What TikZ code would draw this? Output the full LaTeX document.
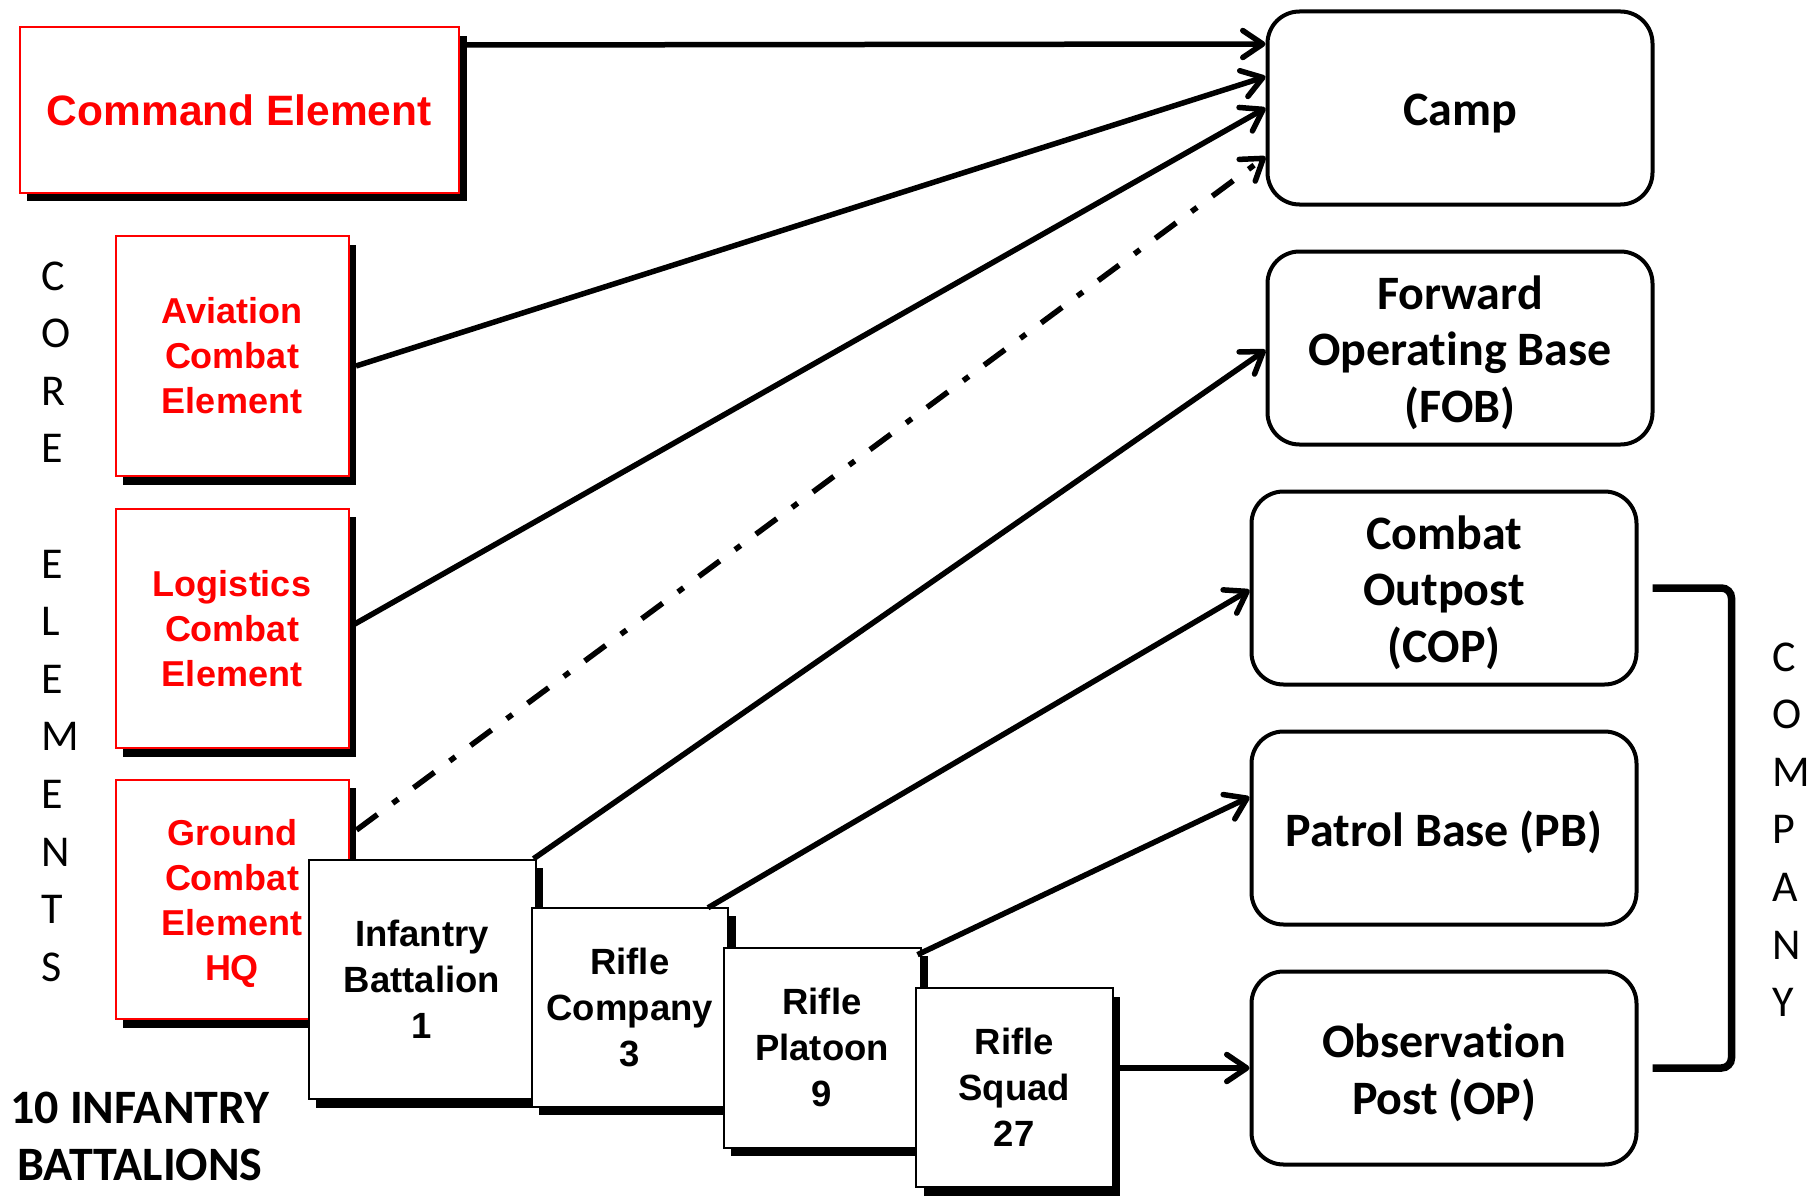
\documentclass[tikz,border=0pt]{standalone}
\usepackage{fontspec}
\newfontfamily\arialfont{Liberation Sans}
\newfontfamily\calfont{Carlito}[Ligatures=NoCommon]
\usetikzlibrary{arrows.meta,shadows,calc}
\begin{document}
\begin{tikzpicture}[x=1pt,y=-1pt,
  sh/.style={drop shadow={shadow xshift=7.5pt,shadow yshift=-8.5pt,opacity=1,fill=black}},
  redbox/.style={sh, draw=red, line width=2pt, fill=white, text=red, align=center, inner sep=0pt,
    font=\arialfont\bfseries\fontsize{36}{45}\selectfont},
  redtext/.style={text=red, align=center, inner sep=0pt,
    font=\arialfont\bfseries\fontsize{36}{45}\selectfont},
  unitbox/.style={sh, draw=black, line width=2pt, fill=white, text=black, align=center, inner sep=0pt,
    font=\arialfont\bfseries\fontsize{36.5}{46}\selectfont},
  basebox/.style={draw=black, line width=4pt, rounded corners=32pt, fill=white, inner sep=0pt,
    minimum width=385pt, minimum height=193pt},
  basetext/.style={align=center, inner sep=0pt, font=\calfont\bfseries\fontsize{48}{56.6}\selectfont},
  conn/.style={line width=5.5pt, -{Straight Barb[length=20pt,width=27pt,round]}},
  vletter/.style={anchor=base west, inner sep=0pt, font=\calfont\fontsize{44}{50}\selectfont},
  bracketline/.style={line width=7.5pt, rounded corners=10pt},
]
\useasboundingbox (0,0) rectangle (1812,1196);

% left element boxes
\node[redbox, minimum width=439.5pt, minimum height=165pt,
  font=\arialfont\bfseries\fontsize{42.5}{50}\selectfont] (cmd) at (239.25,110) {Command Element};
\node[redbox, minimum width=233pt, minimum height=240pt] (avi) at (232,356) {Aviation\\Combat\\Element};
\node[redbox, minimum width=233pt, minimum height=239.5pt] (log) at (232,628.25) {Logistics\\Combat\\Element};
\node[redbox, minimum width=233pt, minimum height=239.5pt] (gce) at (232,899.25) {};
\node[redtext] (gceT) at ($(gce.center)+(0,4.6)$) {Ground\\Combat\\Element\\HQ};

% unit boxes
\node[unitbox, minimum width=227pt, minimum height=239.5pt] (inf) at (422,979.5) {Infantry\\Battalion\\1};
\node[unitbox, minimum width=196.5pt, minimum height=199pt] (com) at (629.75,1007.25) {Rifle\\Company\\3};
\node[unitbox, minimum width=197pt, minimum height=200pt] (plt) at (822,1047.7) {Rifle\\Platoon\\9};
\node[unitbox, minimum width=196.5pt, minimum height=199pt] (sqd) at (1014.25,1087.5) {Rifle\\Squad\\27};

% base boxes
\node[basebox] (camp) at (1460,108) {};
\node[basebox] (fob) at (1460,348) {};
\node[basebox] (cop) at (1444,588) {};
\node[basebox] (pb) at (1444,828) {};
\node[basebox] (op) at (1444,1068) {};
\node[basetext] (campT) at ($(camp.center)+(0,5.8)$) {Camp};
\node[basetext] (fobT) at ($(fob.center)+(0,4.6)$) {Forward\\Operating Base\\(FOB)};
\node[basetext] (copT) at ($(cop.center)+(0,4.6)$) {Combat\\Outpost\\(COP)};
\node[basetext] (pbT) at ($(pb.center)+(0,4.6)$) {Patrol Base (PB)};
\node[basetext] (opT) at ($(op.center)+(0,4.6)$) {Observation\\Post (OP)};

% connectors
\draw[conn] ($(cmd.north east)+(6,18.5)$) -- ($(camp.west)+(0,-64)$);
\draw[conn] ($(avi.north east)+(6.5,131)$) -- ($(camp.west)+(0,-31.3)$);
\draw[conn] ($(log.north east)+(3.5,117.5)$) -- (camp.west);
\draw[conn, dash pattern=on 26pt off 19pt on 7pt off 19pt] ($(gce.north east)+(7,51.5)$) -- ($(camp.west)+(0,48.7)$);
\draw[conn] ($(inf.north east)+(-3,0)$) -- ($(fob.west)+(0,2)$);
\draw[conn] ($(com.north east)+(-21,1)$) -- ($(cop.west)+(0,2)$);
\draw[conn] ($(plt.north east)+(-4,8)$) -- ($(pb.west)+(0,-31)$);
\draw[conn] (sqd.east |- op.west) -- (op.west);

% company bracket
\draw[bracketline] ($(cop.east)+(14,0)$) -- ($(cop.east)+(93,0)$) -- ($(op.east)+(93,0)$) -- ($(op.east)+(14,0)$);

% vertical labels
\foreach \l/\k in {C/0,O/1,R/2,E/3,E/5,L/6,E/7,M/8,E/9,N/10,T/11,S/12}
  \node[vletter] (core\k) at (41,{290+57.6*\k}) {\l};
\foreach \l/\k in {C/0,O/1,M/2,P/3,A/4,N/5,Y/6}
  \node[vletter] (comp\k) at (1772,{671+57.6*\k}) {\l};

\node[font=\calfont\bfseries\fontsize{48}{57}\selectfont, align=center, inner sep=0pt] (bn) at (140,1136.7) {10 INFANTRY\\BATTALIONS};
\end{tikzpicture}
\end{document}
